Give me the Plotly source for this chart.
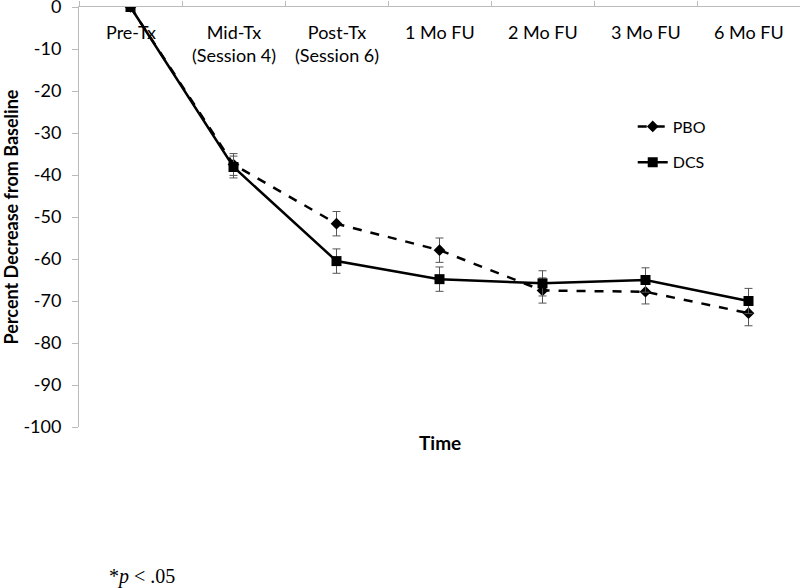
import plotly.graph_objects as go

categories = ["Pre-Tx", "Mid-Tx<br>(Session 4)", "Post-Tx<br>(Session 6)", "1 Mo FU", "2 Mo FU", "3 Mo FU", "6 Mo FU"]
pbo_values = [0, -37.5, -51.6, -57.9, -67.5, -67.8, -72.9]
pbo_err = [0, 2.6, 2.9, 2.9, 3.0, 2.9, 3.0]
dcs_values = [0, -38.1, -60.5, -64.8, -65.8, -65.0, -70.0]
dcs_err = [0, 2.6, 2.9, 2.9, 3.0, 2.9, 3.0]
y_ticks = [0, -10, -20, -30, -40, -50, -60, -70, -80, -90, -100]
y_tick_text = ["0", "-10", "-20", "-30", "-40", "-50", "-60", "-70", "-80", "-90", "-100"]

FONT = "Lato"

fig = go.Figure()
fig.add_trace(go.Scatter(
    x=categories, y=pbo_values, name="PBO", mode="lines+markers", legendgroup="a",
    line=dict(color="black", width=2.5, dash="dash"),
    marker=dict(symbol="diamond", size=9, color="black"),
    error_y=dict(type="data", array=pbo_err, visible=True, color="#555", thickness=1, width=4),
))
fig.add_trace(go.Scatter(
    x=categories, y=dcs_values, name="DCS", mode="lines+markers", legendgroup="b",
    line=dict(color="black", width=2.5),
    marker=dict(symbol="square", size=10, color="black"),
    error_y=dict(type="data", array=dcs_err, visible=True, color="#555", thickness=1, width=4),
))

fig.update_layout(
    width=800, height=588,
    margin=dict(l=79, r=0, t=7, b=161, autoexpand=False),
    paper_bgcolor="white", plot_bgcolor="white",
    font=dict(family=FONT, size=18, color="black"),
    showlegend=True,
    legend=dict(x=0.768, y=0.756, xanchor="left", yanchor="top",
                font=dict(family=FONT, size=16, color="black"), bgcolor="rgba(0,0,0,0)",
                tracegroupgap=12, itemwidth=30),
    hovermode=False,
)
fig.update_xaxes(
    type="category", side="top", tickson="boundaries", ticks="outside", ticklen=5,
    tickcolor="#bbbbbb", showline=True, linecolor="#bbbbbb", linewidth=1,
    showticklabels=False, automargin=False,
    showgrid=False, zeroline=False, range=[-0.5, 6.5],
)
fig.update_yaxes(
    range=[-100, 0], tickvals=y_ticks, ticktext=y_tick_text, ticks="outside", ticklen=6,
    tickcolor="#bbbbbb", showline=True, linecolor="#bbbbbb", linewidth=1,
    ticklabeloverflow="allow", automargin=False, ticklabelstandoff=7,
    showgrid=False, zeroline=False, tickfont=dict(family=FONT, size=18, color="black"),
    title=dict(text="<b>Percent Decrease from Baseline</b>", font=dict(family=FONT, size=18, color="black"), standoff=4),
)
# category labels drawn just inside the top axis line
for cat in categories:
    fig.add_annotation(text=cat, xref="x", yref="paper", x=cat, y=1, yshift=-12,
                       xanchor="center", yanchor="top", align="center", showarrow=False,
                       font=dict(family=FONT, size=18, color="black"))
fig.add_annotation(text="<b>Time</b>", xref="paper", yref="paper", x=(440 - 79) / 721, y=-(442 - 427) / 420,
                   showarrow=False, font=dict(family=FONT, size=19, color="black"), xanchor="center", yanchor="middle")
fig.add_annotation(text="*<i>p</i> &lt; .05", xref="paper", yref="paper", x=(107 - 79) / 721, y=-(576 - 427) / 420,
                   showarrow=False, font=dict(family="Liberation Serif", size=20, color="black"), xanchor="left", yanchor="middle")

fig.write_html("out.html", config={"displayModeBar": False},
               post_script="document.body.style.margin='0px';")
